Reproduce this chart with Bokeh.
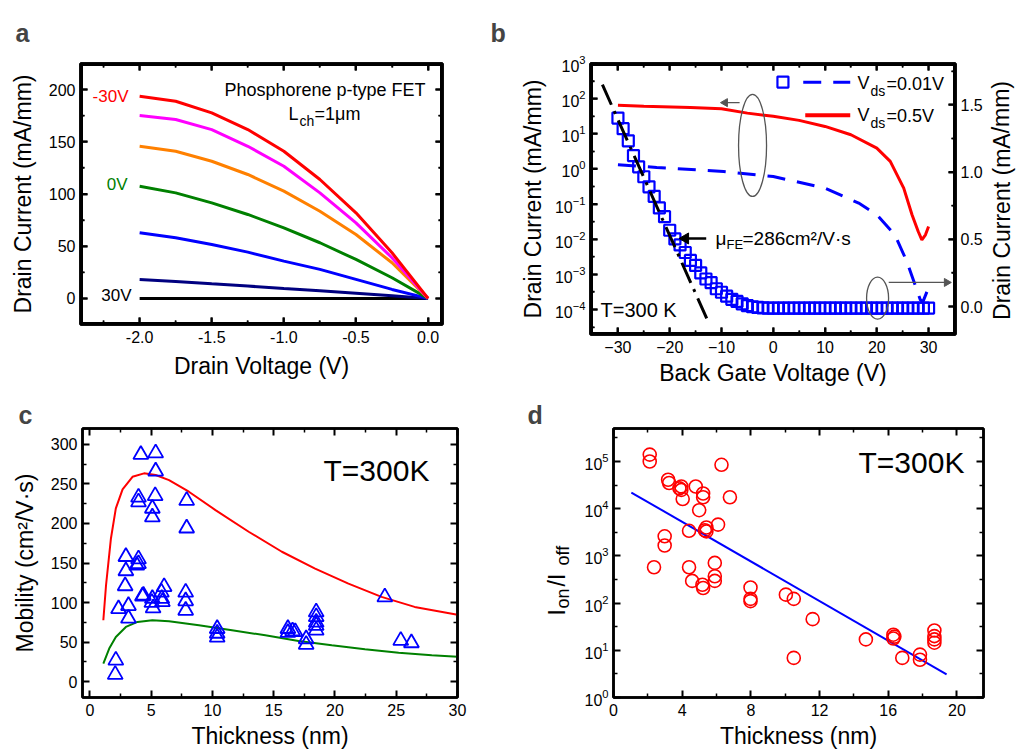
from math import pi, log10
from bokeh.plotting import figure
from bokeh.layouts import column, row
from bokeh.models import (FixedTicker, LinearAxis, Range1d, LinearScale, LabelSet,
                          ColumnDataSource, CustomJSTickFormatter)
from bokeh.core.properties import value, field
from bokeh.embed import file_html
from bokeh.resources import INLINE

FONT = "Liberation Sans"

# ---------------- (a) output characteristics ----------------
vds = [-2.0, -1.75, -1.5, -1.25, -1.0, -0.75, -0.5, -0.25, 0.0]
id_vg_m30 = [193.6, 188.8, 177.7, 161.7, 141.0, 113.9, 82.0, 43.7, 0.0]
id_vg_m20 = [175.1, 171.3, 161.7, 145.7, 126.6, 101.1, 72.4, 38.9, 0.0]
id_vg_m10 = [145.7, 141.0, 131.4, 118.7, 102.7, 83.5, 61.2, 34.1, 0.0]
id_vg_0 = [107.5, 101.1, 91.5, 80.4, 67.6, 53.3, 37.3, 19.8, 0.0]
id_vg_10 = [62.9, 58.1, 51.7, 44.3, 35.7, 27.8, 18.2, 8.6, 0.0]
id_vg_20 = [18.2, 16.3, 14.0, 11.8, 9.5, 7.3, 5.0, 2.6, 0.0]
id_vg_30 = [0.0, 0.0, 0.0, 0.0, 0.0, 0.0, 0.0, 0.0, 0.0]

# ---------------- (b) transfer characteristics ----------------
vg_sq = list(range(-30, 31))
id_sq = [28, 14, 6.3, 2.4, 1.15, 0.60, 0.31, 0.166, 0.078, 0.044,
         0.018, 0.0102, 0.0069, 0.0042, 0.0025, 0.0018, 0.0011, 7.4e-4, 5.8e-4, 3.9e-4,
         3.1e-4, 2.4e-4, 1.95e-4, 1.7e-4, 1.45e-4, 1.29e-4, 1.2e-4, 1.15e-4, 1.12e-4,
         1.1e-4, 1.1e-4, 1.1e-4, 1.1e-4, 1.1e-4, 1.1e-4, 1.1e-4, 1.1e-4, 1.1e-4, 1.1e-4,
         1.1e-4, 1.1e-4, 1.1e-4, 1.1e-4, 1.1e-4, 1.1e-4, 1.1e-4, 1.1e-4, 1.1e-4, 1.1e-4,
         1.1e-4, 1.1e-4, 1.1e-4, 1.1e-4, 1.1e-4, 1.1e-4, 1.1e-4, 1.1e-4, 1.1e-4, 1.1e-4,
         1.1e-4, 1.1e-4]
vg_lin_001 = [-30, -22.5, -9.6, 0, 10, 16.5, 20, 23.5, 25.8, 27.4, 28.4, 28.9, 30]
id_lin_001 = [1.054, 1.034, 1.004, 0.967, 0.88, 0.769, 0.682, 0.533, 0.335, 0.161, 0.05, 0.035, 0.14]
vg_lin_05 = [-30, -25, -16, -10, -5, 0, 5, 10, 15, 20, 22.6, 25.2, 26.8, 28, 28.7, 29.4, 30]
id_lin_05 = [1.496, 1.49, 1.48, 1.471, 1.438, 1.414, 1.384, 1.339, 1.277, 1.178, 1.079, 0.88,
             0.682, 0.558, 0.496, 0.533, 0.595]
vg_fit = [-33.0, -12.6]
id_fit = [250, 4.6e-5]

# ---------------- (c) mobility vs thickness ----------------
thick_c = [4.16, 5.37, 5.37, 3.97, 3.97, 5.33, 5.10, 5.10, 7.90, 7.90, 2.94, 2.94, 2.88, 2.34,
           3.15, 3.15, 2.12, 2.07, 3.97, 3.97, 3.83, 4.37, 4.29, 5.10, 5.16, 5.06, 5.92, 6.06,
           5.84, 5.87, 7.82, 7.82, 7.82, 10.39, 10.39, 10.39, 16.16, 16.16, 16.54, 16.76, 17.65,
           17.65, 18.47, 18.47, 18.47, 18.47, 18.47, 24.07, 25.37, 26.24]
mob_c = [287, 289, 266, 233, 227, 235, 219, 208, 229, 194, 158, 140, 121, 92, 96, 80, 27, 9,
         155, 149, 147, 109, 108, 105, 93, 100, 101, 120, 113, 105, 113, 102, 90, 67, 61, 56,
         67, 62, 64, 63, 54, 47, 88, 82, 75, 71, 65, 107, 52, 49]
model_hi_t = [1.10, 1.32, 1.72, 2.12, 2.67, 3.48, 4.42, 5.37, 6.46, 8.08, 10.25, 12.96, 15.67,
              18.38, 21.10, 23.80, 26.50, 30.0]
model_hi_mu = [77.6, 121.9, 181.0, 219.0, 243.0, 259.0, 263.3, 261.2, 254.8, 240.1, 216.9,
               189.5, 164.2, 143.0, 124.0, 107.2, 94.5, 84.5]
model_lo_t = [1.10, 1.58, 2.12, 2.94, 3.89, 5.10, 6.46, 8.90, 11.60, 14.32, 17.03, 19.74, 22.45,
              25.20, 27.90, 30.0]
model_lo_mu = [22.8, 41.8, 56.5, 69.2, 75.5, 77.6, 76.4, 71.3, 65.0, 58.6, 51.5, 46.0, 40.9,
               36.7, 33.3, 31.5]

# ---------------- (d) on/off ratio vs thickness ----------------
thick_d = [2.11, 2.11, 3.18, 3.24, 3.95, 3.95, 3.84, 4.03, 4.79, 5.22, 5.22, 4.99, 6.29, 6.78,
           6.09, 5.41, 5.41, 5.32, 4.40, 2.98, 2.98, 2.36, 4.40, 4.58, 5.18, 5.22, 5.90, 5.90,
           5.90, 7.98, 7.98, 7.98, 10.04, 10.50, 10.50, 11.60, 14.70, 16.30, 16.30, 16.36,
           16.82, 17.85, 17.85, 18.69, 18.69, 18.69, 18.69]
ratio_d = [1.4e5, 1.0e5, 4.1e4, 3.5e4, 2.95e4, 2.5e4, 2.7e4, 1.6e4, 2.95e4, 2.1e4, 1.75e4,
           9.3e3, 8.5e4, 1.75e4, 4.6e3, 4.0e3, 3.3e3, 3.5e3, 3.4e3, 2.6e3, 1.66e3, 575, 575,
           295, 245, 209, 710, 370, 295, 214, 123, 110, 151, 123, 6.9, 45.7, 17, 21.4, 17.8,
           19.5, 6.9, 8.1, 6.3, 26.3, 20, 14.5, 17]
fit_d_t = [1.04, 19.4]
fit_d_r = [2.2e4, 3.1]


# ---------------- helpers ----------------
def make_fig(xr, yr, fw, fh, bl, br, bt, bb, ylog=False, letter="", letter_dx=0,
             top_align=False, so=0):
    p = figure(x_range=xr, y_range=yr, y_axis_type="log" if ylog else "linear",
               frame_width=fw, frame_height=fh, min_border_left=bl, min_border_right=br,
               min_border_top=bt, min_border_bottom=bb, output_backend="svg",
               toolbar_location=None)
    p.title.text = letter
    p.title.text_font = FONT
    p.title.text_font_size = "25px"
    p.title.text_font_style = "bold"
    p.title.align = "left"
    p.title.offset = letter_dx
    p.title.standoff = so
    if top_align:
        p.title.vertical_align = "top"
    p.grid.visible = False
    p.outline_line_color = "black"
    p.outline_line_width = 2.5
    return p


def spacer(fw, fh, letter=None, dx=0):
    s = figure(x_range=Range1d(0, 1), y_range=Range1d(0, 1), frame_width=fw, frame_height=fh,
               min_border=0, output_backend="svg", toolbar_location=None,
               title=letter, x_axis_location=None, y_axis_location=None)
    if letter is not None:
        s.title.text_font = FONT
        s.title.text_font_size = "25px"
        s.title.text_font_style = "bold"
        s.title.align = "left"
        s.title.offset = dx
        s.title.standoff = 0
    s.grid.visible = False
    s.outline_line_color = None
    return s


def style_axis(ax, ticker, fmt=None, label=None, tick_stand=6, label_stand=6):
    ax.ticker = ticker
    if fmt is not None:
        ax.formatter = fmt
    ax.major_label_standoff = tick_stand
    ax.axis_label = label
    ax.axis_label_standoff = label_stand
    ax.axis_line_color = "black"
    ax.axis_line_width = 2.5
    ax.major_tick_in = 7
    ax.major_tick_out = 0
    ax.minor_tick_in = 4
    ax.minor_tick_out = 0
    ax.major_tick_line_width = 2
    ax.minor_tick_line_width = 1.5
    ax.major_tick_line_color = "black"
    ax.minor_tick_line_color = "black"
    ax.major_label_text_font = FONT
    ax.major_label_text_font_size = "16px"
    ax.major_label_text_color = "black"
    ax.axis_label_text_font = FONT
    ax.axis_label_text_font_size = "23px"
    ax.axis_label_text_font_style = "normal"
    ax.axis_label_text_color = "black"


def mirror(p, side, ticker, **kw):
    ax = LinearAxis(**kw)
    style_axis(ax, ticker, CustomJSTickFormatter(code="return ''"), None, tick_stand=0)
    p.add_layout(ax, side)


def one_decimal():
    return CustomJSTickFormatter(code="return tick.toFixed(1)")


def glyph_frame(p, fw, fh, xt, yt, ylog=False, rt=None, rname=None):
    """Box and inward ticks drawn as glyphs on the frame edges (taken from the ranges)."""
    x0, x1, y0, y1 = p.x_range.start, p.x_range.end, p.y_range.start, p.y_range.end
    p.quad(left=[x0], right=[x1], bottom=[y0], top=[y1], fill_color=None,
           line_color="black", line_width=5)
    dx = (x1 - x0) / fw
    if ylog:
        k = (log10(y1) - log10(y0)) / fh

        def ys(y, n):
            return y * 10 ** (n * k)
    else:
        k = (y1 - y0) / fh

        def ys(y, n):
            return y + n * k
    for ticks, L, w in ((xt.ticks, 7, 2), (xt.minor_ticks, 4, 1.5)):
        n = len(ticks)
        p.segment(x0=ticks, y0=[y0] * n, x1=ticks, y1=[ys(y0, L)] * n, line_color="black", line_width=w)
        p.segment(x0=ticks, y0=[y1] * n, x1=ticks, y1=[ys(y1, -L)] * n, line_color="black", line_width=w)
    for ticks, L, w in ((yt.ticks, 7, 2), (yt.minor_ticks, 4, 1.5)):
        n = len(ticks)
        p.segment(x0=[x0] * n, y0=ticks, x1=[x0 + L * dx] * n, y1=ticks, line_color="black", line_width=w)
        if rt is None:
            p.segment(x0=[x1] * n, y0=ticks, x1=[x1 - L * dx] * n, y1=ticks, line_color="black", line_width=w)
    if rt is not None:
        for ticks, L, w in ((rt.ticks, 7, 2), (rt.minor_ticks, 4, 1.5)):
            n = len(ticks)
            p.segment(x0=[x1] * n, y0=ticks, x1=[x1 - L * dx] * n, y1=ticks, line_color="black",
                      line_width=w, y_range_name=rname)


def add_texts(p, items):
    """items: (x, y, text, size, color, align, baseline, style, angle) in screen px of the frame"""
    cols = dict(x=[], y=[], text=[], size=[], color=[], align=[], baseline=[], style=[], angle=[])
    for x, y, t, s, c, a, b, st, ang in items:
        cols["x"].append(x); cols["y"].append(y); cols["text"].append(t)
        cols["size"].append(f"{s}px"); cols["color"].append(c); cols["align"].append(a)
        cols["baseline"].append(b); cols["style"].append(st); cols["angle"].append(ang)
    p.add_layout(LabelSet(x="x", y="y", text="text", source=ColumnDataSource(cols),
                          x_units="screen", y_units="screen", text_font=value(FONT),
                          text_font_size=field("size"), text_color=field("color"),
                          text_align=field("align"), text_baseline=field("baseline"),
                          text_font_style=field("style"), angle=field("angle")))


K = "black"
# ================= panel a =================
pa = make_fig(Range1d(-2.41, 0.10), Range1d(-25, 225), 362, 261, 80, 36, 63, 66,
              letter="a", letter_dx=-65, top_align=True, so=30)
xt_a = FixedTicker(ticks=[-2.0, -1.5, -1.0, -0.5, 0.0], minor_ticks=[-2.25, -1.75, -1.25, -0.75, -0.25])
yt_a = FixedTicker(ticks=[0, 50, 100, 150, 200], minor_ticks=[25, 75, 125, 175])
style_axis(pa.below[0], xt_a, one_decimal(), "Drain Voltage (V)", label_stand=7)
style_axis(pa.left[0], yt_a, None, "Drain Current (mA/mm)", tick_stand=5, label_stand=10)
mirror(pa, "above", xt_a)
mirror(pa, "right", yt_a)
glyph_frame(pa, 362, 261, xt_a, yt_a)
for ys_, c in [(id_vg_30, "#000000"), (id_vg_20, "#000080"), (id_vg_10, "#0000ff"),
               (id_vg_0, "#008000"), (id_vg_m10, "#ff8000"), (id_vg_m20, "#ff00ff"),
               (id_vg_m30, "#ff0000")]:
    pa.line(vds, ys_, line_color=c, line_width=3)
add_texts(pa, [
    (345, 235, "Phosphorene p-type FET", 18, K, "right", "middle", "normal", 0.0),
    (208, 211, "L", 18, K, "left", "middle", "normal", 0.0),
    (219, 204, "ch", 14, K, "left", "middle", "normal", 0.0),
    (234, 211, "=1μm", 18, K, "left", "middle", "normal", 0.0),
    (48, 228, "-30V", 17, "#ff0000", "right", "middle", "normal", 0.0),
    (47, 140, "0V", 17, "#008000", "right", "middle", "normal", 0.0),
    (51, 29, "30V", 17, K, "right", "middle", "normal", 0.0),
])

# ================= panel b =================
pb = make_fig(Range1d(-35.3, 35.2), Range1d(1.95e-5, 1e3), 365, 271, 112, 33, 63, 56, ylog=True,
              letter="b", letter_dx=-100, top_align=True, so=30)
pb.extra_y_ranges = {"lin": Range1d(-0.208, 1.807)}
pb.extra_y_scales = {"lin": LinearScale()}
xt_b = FixedTicker(ticks=[-30, -20, -10, 0, 10, 20, 30], minor_ticks=[-25, -15, -5, 5, 15, 25])
yt_b = FixedTicker(ticks=[1e-4, 1e-3, 1e-2, 1e-1, 1, 10, 100, 1000],
                   minor_ticks=[3.16e-5, 3.16e-4, 3.16e-3, 3.16e-2, 0.316, 3.16, 31.6, 316])
yt_b2 = FixedTicker(ticks=[0.0, 0.5, 1.0, 1.5], minor_ticks=[0.25, 0.75, 1.25, 1.75])
style_axis(pb.below[0], xt_b, None, "Back Gate Voltage (V)", label_stand=4)
style_axis(pb.left[0], yt_b, None, "Drain Current (mA/mm)", tick_stand=5, label_stand=6)
rax = LinearAxis(y_range_name="lin")
style_axis(rax, yt_b2, one_decimal(), None, tick_stand=5)
pb.add_layout(rax, "right")
mirror(pb, "above", xt_b)
glyph_frame(pb, 365, 271, xt_b, yt_b, ylog=True, rt=yt_b2, rname="lin")

pb.scatter(vg_sq, id_sq, marker="square", size=11, line_color="#0000ff", line_width=2.2,
           fill_color=None)
pb.line(vg_fit, id_fit, line_color="black", line_width=3, line_dash="22 7 3 7")
pb.line(vg_lin_05, id_lin_05, line_color="#ff0000", line_width=3, y_range_name="lin")
pb.line(vg_lin_001, id_lin_001, line_color="#0000ff", line_width=3, line_dash="18 12",
        y_range_name="lin")

# legend decorations (right-axis coordinates)
pb.scatter([1.87], [1.669], marker="square", size=11, line_color="#0000ff", line_width=2.2,
           fill_color=None, y_range_name="lin")
pb.line([5.79, 14.87], [1.667, 1.667], line_color="#0000ff", line_width=3, line_dash="18 12",
        y_range_name="lin")
pb.line([6.18, 14.87], [1.423, 1.423], line_color="#ff0000", line_width=4, y_range_name="lin")

# guide ellipses and arrows (right-axis coordinates)
pb.ellipse(x=[-4.0, 20.15], y=[1.198, 0.062], width=[28, 22], height=[102, 42],
           width_units="screen", height_units="screen", fill_color=None,
           line_color="#555555", line_width=1.3, y_range_name="lin")
pb.segment(x0=[-6.5, 22.3], y0=[1.516, 0.179], x1=[-9.4, 33.5], y1=[1.516, 0.179],
           line_color="#555555", line_width=1.3, y_range_name="lin")
pb.scatter([-9.3], [1.516], marker="triangle", angle=pi / 2, size=8, fill_color="#555555",
           line_color="#555555", y_range_name="lin")
pb.scatter([33.5], [0.179], marker="triangle", angle=-pi / 2, size=8, fill_color="#555555",
           line_color="#555555", y_range_name="lin")
pb.segment(x0=[-12.95], y0=[0.506], x1=[-16.9], y1=[0.506], line_color="black", line_width=2.5,
           y_range_name="lin")
pb.scatter([-16.97], [0.506], marker="triangle", angle=pi / 2, size=11, fill_color="black",
           line_color="black", y_range_name="lin")

add_texts(pb, [
    (267, 252, "V", 18, K, "left", "middle", "normal", 0.0),
    (280, 244, "ds", 14, K, "left", "middle", "normal", 0.0),
    (296, 251, "=0.01V", 18, K, "left", "middle", "normal", 0.0),
    (267, 220, "V", 18, K, "left", "middle", "normal", 0.0),
    (280, 212, "ds", 14, K, "left", "middle", "normal", 0.0),
    (296, 219, "=0.5V", 18, K, "left", "middle", "normal", 0.0),
    (125, 90, "μ", 19, K, "left", "alphabetic", "normal", 0.0),
    (136, 86, "FE", 13, K, "left", "alphabetic", "normal", 0.0),
    (152, 90, "=286cm²/V·s", 19, K, "left", "alphabetic", "normal", 0.0),
    (10, 25, "T=300 K", 20, K, "left", "middle", "normal", 0.0),
])

# spacer right of b holding the right-hand axis title (tall frame so nothing is clipped)
sb = spacer(35, 390)
add_texts(sb, [(13, 253, "Drain Current (mA/mm)", 23, K, "center", "middle", "normal", pi / 2)])

# ================= panel c =================
pc = make_fig(Range1d(-0.6, 30.0), Range1d(-20, 320), 375, 269, 82, 21, 38, 56,
              letter="c", letter_dx=-64, so=0)
xt_c = FixedTicker(ticks=[0, 5, 10, 15, 20, 25, 30], minor_ticks=[2.5, 7.5, 12.5, 17.5, 22.5, 27.5])
yt_c = FixedTicker(ticks=[0, 50, 100, 150, 200, 250, 300],
                   minor_ticks=[25, 75, 125, 175, 225, 275])
style_axis(pc.below[0], xt_c, None, "Thickness (nm)", label_stand=4)
style_axis(pc.left[0], yt_c, None, "Mobility (cm²/V·s)", tick_stand=5, label_stand=10)
mirror(pc, "above", xt_c)
mirror(pc, "right", yt_c)
pc.line(model_hi_t, model_hi_mu, line_color="#ff0000", line_width=2)
pc.line(model_lo_t, model_lo_mu, line_color="#008000", line_width=2)
pc.scatter(thick_c, mob_c, marker="triangle", size=15, line_color="#0000ff", line_width=1.8,
           fill_color=None)
add_texts(pc, [(241, 227, "T=300K", 30, K, "left", "middle", "normal", 0.0)])

# spacer left of d (frame lines up with d's frame): panel letter and y-axis title
sd = spacer(97, 269, letter="d", dx=49)
add_texts(sd, [
    (86, 82, "I", 23, K, "left", "alphabetic", "normal", pi / 2),
    (90, 89, "on", 18, K, "left", "alphabetic", "normal", pi / 2),
    (86, 111, "/I", 23, K, "left", "alphabetic", "normal", pi / 2),
    (90, 132, "off", 18, K, "left", "alphabetic", "normal", pi / 2),
])

# ================= panel d =================
pd_ = make_fig(Range1d(0, 21.55), Range1d(1, 5.0e5), 370, 269, 38, 40, 38, 56, ylog=True)
xt_d = FixedTicker(ticks=[0, 4, 8, 12, 16, 20], minor_ticks=[2, 6, 10, 14, 18])
yt_d = FixedTicker(ticks=[1, 10, 100, 1e3, 1e4, 1e5],
                   minor_ticks=[3.16, 31.6, 316, 3.16e3, 3.16e4, 3.16e5])
style_axis(pd_.below[0], xt_d, None, "Thickness (nm)", label_stand=4)
style_axis(pd_.left[0], yt_d, None, None, tick_stand=5)
mirror(pd_, "above", xt_d)
mirror(pd_, "right", yt_d)
pd_.line(fit_d_t, fit_d_r, line_color="#0000ff", line_width=2)
pd_.scatter(thick_d, ratio_d, marker="circle", size=13, line_color="#ff0000", line_width=1.6,
            fill_color=None)
add_texts(pd_, [(245, 235, "T=300K", 30, K, "left", "middle", "normal", 0.0)])

layout = column(row(pa, pb, sb, spacing=0), row(pc, sd, pd_, spacing=0), spacing=0)
open("out.html", "w").write(file_html(layout, INLINE))
